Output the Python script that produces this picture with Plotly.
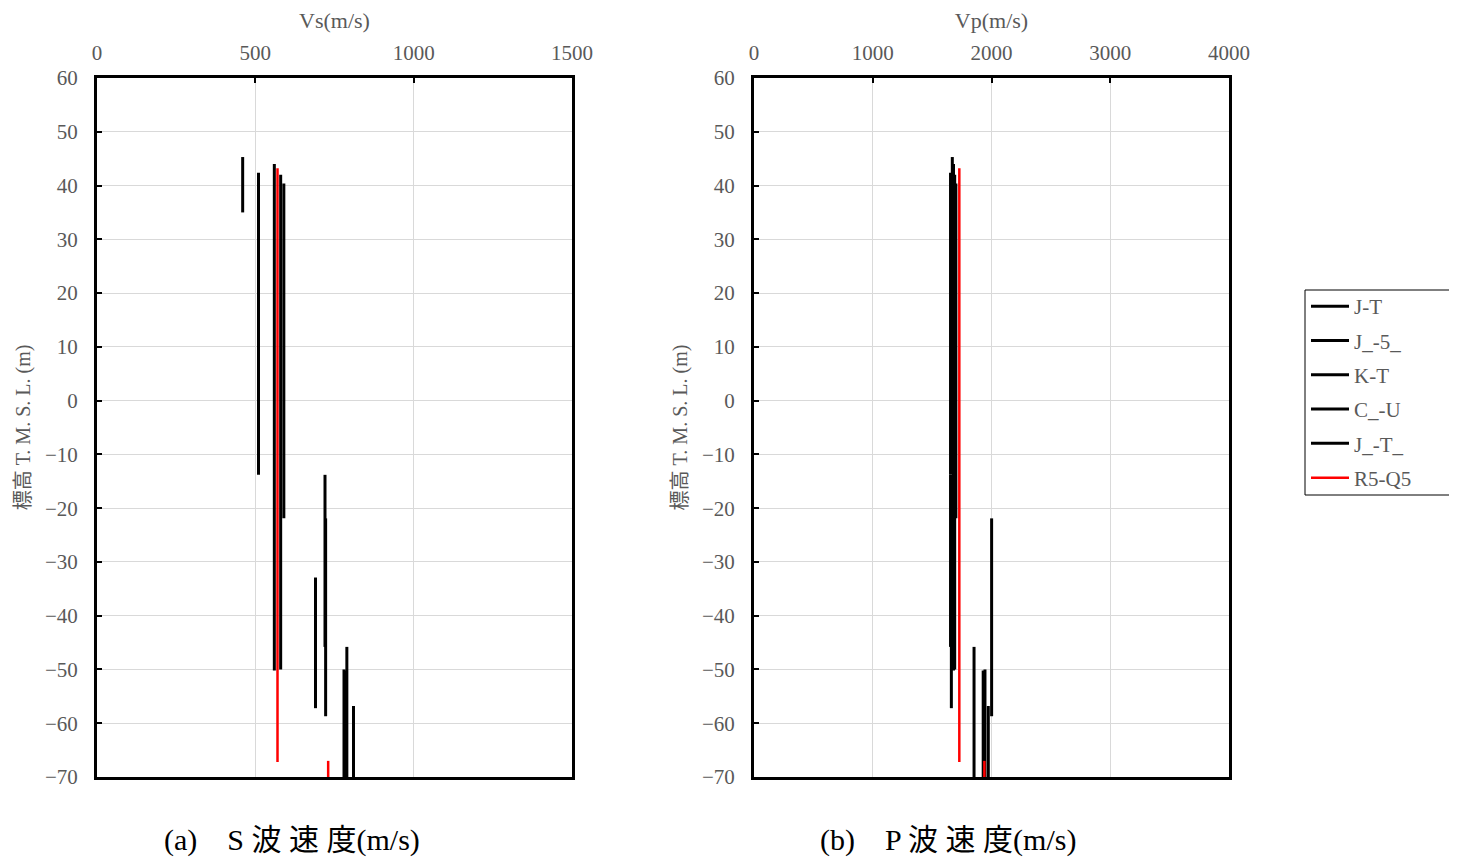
import plotly.graph_objects as go

# ---- data ----
series_names = ["J-T", "J_-5_", "K-T", "C_-U", "J_-T_", "R5-Q5"]
series_colors = ["#000000", "#000000", "#000000", "#000000", "#000000", "#ff0000"]

# layer top / bottom elevations (m) and velocities (m/s) per series
jt_top = [45.3, -32.9]
jt_bot = [35.0, -57.2]
jt_vs = [460, 690]
jt_vp = [1670, 1662]

j5_top = [44.0, -50.2]
j5_bot = [-50.2, -70.0]
j5_vs = [560, 785]
j5_vp = [1680, 1930]

kt_top = [42.4, -13.8, -45.8]
kt_bot = [-13.8, -45.8, -70.0]
kt_vs = [510, 720, 789]
kt_vp = [1655, 1655, 1853]

cu_top = [42.0, -50.0]
cu_bot = [-50.0, -70.0]
cu_vs = [580, 780]
cu_vp = [1690, 1945]

jt2_top = [40.4, -21.9, -56.8]
jt2_bot = [-21.9, -58.7, -70.0]
jt2_vs = [590, 722, 810]
jt2_vp = [1700, 2001, 1973]

rq_top = [43.2, -67.0]
rq_bot = [-67.2, -70.0]
rq_vs = [570, 730]
rq_vp = [1729, 1940]

series_top = [jt_top, j5_top, kt_top, cu_top, jt2_top, rq_top]
series_bot = [jt_bot, j5_bot, kt_bot, cu_bot, jt2_bot, rq_bot]
series_vs = [jt_vs, j5_vs, kt_vs, cu_vs, jt2_vs, rq_vs]
series_vp = [jt_vp, j5_vp, kt_vp, cu_vp, jt2_vp, rq_vp]

vs_ticks = [0, 500, 1000, 1500]
vp_ticks = [0, 1000, 2000, 3000, 4000]
elev_ticks = list(range(-70, 61, 10))

# ---- figure ----
W, H = 1457, 859
OFF = 8  # page body margin
FONT = "Liberation Serif, Noto Sans CJK JP"
GREY = "#595959"

fig = go.Figure()


def segs(vals, tops, bots):
    xs, ys = [], []
    for v, t, b in zip(vals, tops, bots):
        xs += [v, v, None]
        ys += [t, b, None]
    return xs, ys


for i, name in enumerate(series_names):
    w = 2.5 if series_colors[i] == "#ff0000" else 3
    xs, ys = segs(series_vs[i], series_top[i], series_bot[i])
    fig.add_trace(go.Scatter(x=xs, y=ys, mode="lines", name=name,
                             legendgroup=name,
                             line=dict(color=series_colors[i], width=w),
                             xaxis="x", yaxis="y", showlegend=True))
for i, name in enumerate(series_names):
    w = 2.5 if series_colors[i] == "#ff0000" else 3
    xs, ys = segs(series_vp[i], series_top[i], series_bot[i])
    fig.add_trace(go.Scatter(x=xs, y=ys, mode="lines", name=name,
                             legendgroup=name,
                             line=dict(color=series_colors[i], width=w),
                             xaxis="x2", yaxis="y2", showlegend=False))


def px_x(p):
    return (p - OFF) / W


def px_y(p):
    return 1 - (p - OFF) / H


xd1 = [px_x(97), px_x(572)]
xd2 = [px_x(754), px_x(1229)]
yd = [px_y(777), px_y(78)]

common_x = dict(side="top", showline=True, linewidth=3, linecolor="black",
                mirror=True, showgrid=True, gridcolor="#d9d9d9", gridwidth=1,
                ticks="inside", ticklen=5, tickwidth=2, tickcolor="black",
                zeroline=False, automargin=False, ticklabelstandoff=7,
                tickfont=dict(family=FONT, size=21, color=GREY),
                title_font=dict(family=FONT, size=22, color=GREY),
                title_standoff=9)
common_y = dict(range=[-70, 60], tickvals=elev_ticks, showline=True,
                linewidth=3, linecolor="black", mirror=True, showgrid=True,
                gridcolor="#d9d9d9", gridwidth=1, ticks="inside", ticklen=5,
                tickwidth=2, tickcolor="black", zeroline=False,
                automargin=False, ticklabelstandoff=12,
                tickfont=dict(family=FONT, size=21, color=GREY),
                title_font=dict(family=FONT, size=20, color=GREY),
                title_standoff=9)

lx0, lx1 = px_x(1305), px_x(1480)
ly0, ly1 = px_y(495), px_y(290)

fig.update_layout(
    width=W, height=H,
    margin=dict(l=0, r=0, t=0, b=0, autoexpand=False),
    paper_bgcolor="white", plot_bgcolor="white",
    showlegend=True,
    xaxis=dict(domain=xd1, range=[0, 1500], tickvals=vs_ticks,
               title_text="Vs(m/s)", anchor="y", **common_x),
    yaxis=dict(domain=yd, anchor="x", title_text="標高 T. M. S. L. (m)", **common_y),
    xaxis2=dict(domain=xd2, range=[0, 4000], tickvals=vp_ticks,
                title_text="Vp(m/s)", anchor="y2", **common_x),
    yaxis2=dict(domain=yd, anchor="x2", title_text="標高 T. M. S. L. (m)", **common_y),
    legend=dict(x=px_x(1306), y=px_y(286), xanchor="left", yanchor="top",
                borderwidth=0, bgcolor="rgba(0,0,0,0)",
                tracegroupgap=4, itemwidth=38,
                font=dict(family=FONT, size=21, color=GREY)),
    shapes=[
        dict(type="path", xref="paper", yref="paper",
             path=f"M {lx1} {ly1} L {lx0} {ly1} L {lx0} {ly0} L {lx1} {ly0}",
             line=dict(color="black", width=1), layer="below"),
    ],
    annotations=[
        dict(text="(a)　S 波 速 度(m/s)", x=px_x(292), xanchor="center",
             y=px_y(840), yanchor="middle", xref="paper", yref="paper",
             showarrow=False,
             font=dict(family=FONT, size=30, color="black")),
        dict(text="(b)　P 波 速 度(m/s)", x=px_x(948), xanchor="center",
             y=px_y(840), yanchor="middle", xref="paper", yref="paper",
             showarrow=False,
             font=dict(family=FONT, size=30, color="black")),
    ],
)

fig.write_html("out.html")
